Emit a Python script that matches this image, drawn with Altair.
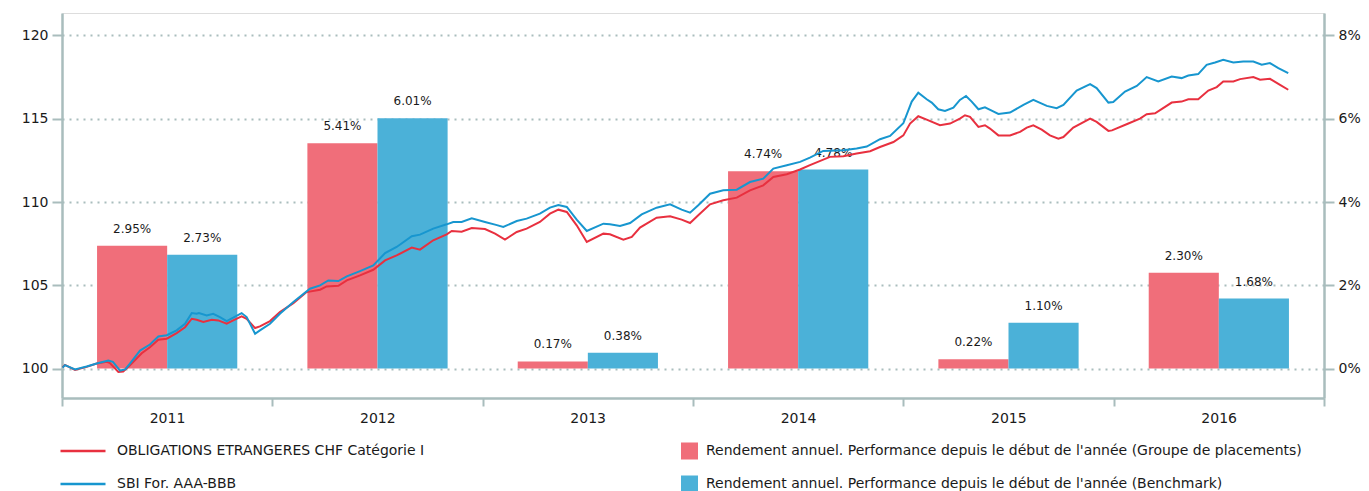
import altair as alt
import pandas as pd

# ---------------- data ----------------
years = [2011, 2012, 2013, 2014, 2015, 2016]
fund_perf = [2.95, 5.41, 0.17, 4.74, 0.22, 2.30]
bench_perf = [2.73, 6.01, 0.38, 4.78, 1.10, 1.68]

fund_name = "OBLIGATIONS ETRANGERES CHF Catégorie I"
bench_name = "SBI For. AAA-BBB"
bar_fund_name = "Rendement annuel. Performance depuis le début de l'année (Groupe de placements)"
bar_bench_name = "Rendement annuel. Performance depuis le début de l'année (Benchmark)"

fund_t = [2011.003, 2011.014, 2011.062, 2011.117, 2011.165, 2011.213, 2011.228, 2011.268, 2011.291, 2011.323,
          2011.379, 2011.418, 2011.458, 2011.498, 2011.545, 2011.585, 2011.617, 2011.640, 2011.672, 2011.712,
          2011.743, 2011.783, 2011.814, 2011.854, 2011.878, 2011.918, 2011.941, 2011.989,
          2012.036, 2012.100, 2012.163, 2012.227, 2012.258, 2012.314, 2012.354, 2012.417, 2012.480, 2012.536,
          2012.591, 2012.663, 2012.702, 2012.765, 2012.829, 2012.853, 2012.900, 2012.948,
          2013.011, 2013.059, 2013.106, 2013.162, 2013.209, 2013.272, 2013.320, 2013.360, 2013.400, 2013.447,
          2013.495, 2013.574, 2013.605, 2013.669, 2013.709, 2013.748, 2013.827, 2013.891, 2013.946, 2013.986,
          2014.025, 2014.081, 2014.144, 2014.208, 2014.271, 2014.334, 2014.382, 2014.446, 2014.509, 2014.556,
          2014.651, 2014.715, 2014.778, 2014.842, 2014.889, 2014.953,
          2015.000, 2015.032, 2015.071, 2015.111, 2015.174, 2015.222, 2015.269, 2015.293, 2015.317, 2015.357,
          2015.388, 2015.412, 2015.452, 2015.507, 2015.555, 2015.587, 2015.618, 2015.658, 2015.697, 2015.737,
          2015.761, 2015.808, 2015.888, 2015.919, 2015.975, 2015.992,
          2016.067, 2016.125, 2016.157, 2016.197, 2016.276, 2016.323, 2016.355, 2016.402, 2016.450, 2016.490,
          2016.521, 2016.569, 2016.601, 2016.664, 2016.696, 2016.743, 2016.791, 2016.830]
fund_v = [100.08, 100.22, 99.92, 100.10, 100.30, 100.40, 100.33, 99.80, 99.82, 100.20,
          100.92, 101.28, 101.73, 101.79, 102.13, 102.48, 102.99, 102.93, 102.79, 102.93,
          102.89, 102.69, 102.89, 103.13, 102.99, 102.43, 102.53, 102.85,
          103.39, 103.93, 104.59, 104.73, 104.93, 104.97, 105.29, 105.59, 105.93, 106.49,
          106.79, 107.26, 107.14, 107.70, 108.06, 108.26, 108.22, 108.44,
          108.38, 108.10, 107.74, 108.20, 108.40, 108.80, 109.30, 109.54, 109.40, 108.60,
          107.60, 108.10, 108.06, 107.74, 107.90, 108.46, 109.06, 109.14, 108.94, 108.74,
          109.20, 109.86, 110.10, 110.26, 110.70, 111.00, 111.50, 111.67, 111.95, 112.21,
          112.71, 112.75, 112.91, 113.05, 113.30, 113.60,
          114.00, 114.71, 115.15, 114.95, 114.61, 114.71, 115.01, 115.21, 115.11, 114.51,
          114.61, 114.41, 114.00, 114.00, 114.21, 114.47, 114.61, 114.35, 114.00, 113.80,
          113.90, 114.47, 115.01, 114.81, 114.27, 114.30,
          114.70, 115.01, 115.27, 115.33, 115.97, 116.03, 116.17, 116.17, 116.69, 116.90,
          117.24, 117.24, 117.38, 117.50, 117.34, 117.40, 117.04, 116.74]

bench_t = [2011.003, 2011.014, 2011.062, 2011.117, 2011.165, 2011.220, 2011.242, 2011.276, 2011.300, 2011.323,
           2011.371, 2011.418, 2011.458, 2011.498, 2011.545, 2011.585, 2011.617, 2011.640, 2011.651, 2011.688,
           2011.719, 2011.751, 2011.783, 2011.814, 2011.854, 2011.878, 2011.918, 2011.941, 2011.989,
           2012.036, 2012.100, 2012.179, 2012.227, 2012.266, 2012.314, 2012.354, 2012.417, 2012.480, 2012.536,
           2012.591, 2012.663, 2012.702, 2012.765, 2012.829, 2012.860, 2012.900, 2012.948,
           2013.011, 2013.059, 2013.098, 2013.162, 2013.209, 2013.272, 2013.320, 2013.360, 2013.400, 2013.447,
           2013.495, 2013.574, 2013.605, 2013.653, 2013.701, 2013.756, 2013.827, 2013.891, 2013.946, 2013.986,
           2014.025, 2014.081, 2014.144, 2014.208, 2014.271, 2014.334, 2014.382, 2014.446, 2014.509, 2014.556,
           2014.619, 2014.715, 2014.778, 2014.826, 2014.889, 2014.937,
           2015.000, 2015.040, 2015.071, 2015.111, 2015.135, 2015.166, 2015.198, 2015.238, 2015.269, 2015.298,
           2015.325, 2015.357, 2015.388, 2015.420, 2015.452, 2015.507, 2015.571, 2015.618, 2015.682, 2015.729,
           2015.761, 2015.824, 2015.888, 2015.919, 2015.975, 2015.998,
           2016.054, 2016.110, 2016.157, 2016.212, 2016.276, 2016.323, 2016.355, 2016.402, 2016.442, 2016.482,
           2016.521, 2016.569, 2016.616, 2016.664, 2016.704, 2016.743, 2016.783, 2016.830]
bench_v = [100.05, 100.20, 99.95, 100.12, 100.30, 100.48, 100.40, 99.88, 99.95, 100.30,
           101.08, 101.44, 101.92, 102.00, 102.29, 102.69, 103.33, 103.29, 103.33, 103.19,
           103.29, 103.09, 102.85, 103.05, 103.33, 103.09, 102.09, 102.29, 102.69,
           103.29, 103.99, 104.79, 104.99, 105.29, 105.25, 105.53, 105.85, 106.19, 106.93,
           107.30, 107.94, 108.04, 108.40, 108.66, 108.80, 108.80, 109.02,
           108.80, 108.64, 108.50, 108.86, 109.00, 109.30, 109.66, 109.82, 109.70, 108.94,
           108.26, 108.70, 108.66, 108.56, 108.74, 109.26, 109.66, 109.86, 109.54, 109.36,
           109.80, 110.50, 110.70, 110.74, 111.20, 111.40, 112.01, 112.21, 112.41, 112.67,
           113.07, 113.11, 113.21, 113.33, 113.77, 113.97,
           114.73, 116.03, 116.57, 116.17, 115.97, 115.57, 115.47, 115.67, 116.13, 116.37,
           116.03, 115.57, 115.69, 115.49, 115.29, 115.37, 115.83, 116.13, 115.77, 115.63,
           115.83, 116.69, 117.08, 116.84, 115.97, 116.00,
           116.63, 116.97, 117.50, 117.24, 117.54, 117.44, 117.60, 117.68, 118.24, 118.38,
           118.54, 118.38, 118.44, 118.44, 118.24, 118.34, 118.04, 117.74]

x_ticks = [2011, 2012, 2013, 2014, 2015, 2016, 2017]
left_ticks = [100, 105, 110, 115, 120]
right_ticks = [0, 2, 4, 6, 8]

# ---------------- styling ----------------
FONT = "DejaVu Sans"
AX = "#A9BDBD"
TXT = "#1a1a1a"
LINE_RED = "#E8303F"
LINE_BLUE = "#1796CF"
BAR_RED = "#F06E7A"
BAR_BLUE = "#4BB1D8"

line_df = pd.concat([
    pd.DataFrame({"t": fund_t, "v": fund_v, "series": fund_name}),
    pd.DataFrame({"t": bench_t, "v": bench_v, "series": bench_name}),
], ignore_index=True)

bar_df = pd.DataFrame({
    "year": years + years,
    "pct": fund_perf + bench_perf,
    "kind": [bar_fund_name] * len(years) + [bar_bench_name] * len(years),
    "k": [0] * len(years) + [1] * len(years),
})

x_scale = alt.Scale(domain=[2011, 2017], nice=False, zero=False)
x_axis = alt.Axis(values=x_ticks, format="d", title=None, grid=False,
                  labelExpr="datum.value >= 2017 ? '' : datum.label",
                  labelOffset=105, labelFlush=False, labelOverlap=False, labelBound=False,
                  tickSize=8, tickWidth=2, tickColor=AX, domainColor=AX, domainWidth=2.5,
                  labelFontSize=14, labelPadding=5, labelColor=TXT, labelFont=FONT)

left_scale = alt.Scale(domain=[98.23, 121.35], nice=False, zero=False)
right_scale = alt.Scale(domain=[-0.708, 8.54], nice=False, zero=False)

left_axis = alt.Axis(orient="left", values=left_ticks, title=None, grid=True,
                     gridColor=AX, gridDash=[2, 5], gridWidth=2,
                     tickSize=10, tickWidth=2, tickColor=AX, domainColor=AX, domainWidth=2.5,
                     labelFontSize=14, labelPadding=4, labelColor=TXT, labelFont=FONT)
right_axis = alt.Axis(orient="right", values=right_ticks, title=None, grid=False,
                      labelExpr="datum.value + '%'",
                      tickSize=10, tickWidth=2, tickColor=AX, domainColor=AX, domainWidth=2.5,
                      labelFontSize=14, labelPadding=4, labelColor=TXT, labelFont=FONT)

bar_base = alt.Chart(bar_df).transform_calculate(
    x0="datum.year + 1/6 + datum.k/3",
).transform_calculate(
    x1="datum.x0 + 1/3",
    xm="datum.x0 + 1/6",
    label="format(datum.pct, '.2f') + '%'",
)

bars = bar_base.mark_bar().encode(
    x=alt.X("x0:Q", scale=x_scale, axis=x_axis),
    x2="x1:Q",
    y=alt.Y("pct:Q", scale=right_scale, axis=right_axis),
    y2=alt.datum(0),
    fill=alt.Fill("kind:N",
                  scale=alt.Scale(domain=[bar_fund_name, bar_bench_name], range=[BAR_RED, BAR_BLUE]),
                  legend=alt.Legend(orient="none", legendX=619, legendY=428, title=None,
                                    symbolType="square", symbolSize=289, symbolStrokeWidth=0,
                                    labelOffset=8, labelFontSize=14, labelFont=FONT, labelColor=TXT,
                                    clipHeight=20, rowPadding=13, padding=0, labelLimit=800)),
)

labels = bar_base.mark_text(dy=-17, fontSize=12, font=FONT, color=TXT).encode(
    x=alt.X("xm:Q", scale=x_scale, axis=x_axis),
    y=alt.Y("pct:Q", scale=right_scale, axis=right_axis),
    text="label:N",
)

lines = alt.Chart(line_df).mark_line(strokeWidth=2).encode(
    x=alt.X("t:Q", scale=x_scale, axis=x_axis),
    y=alt.Y("v:Q", scale=left_scale, axis=left_axis),
    stroke=alt.Stroke("series:N",
                      scale=alt.Scale(domain=[fund_name, bench_name], range=[LINE_RED, LINE_BLUE]),
                      legend=alt.Legend(orient="none", legendX=-3, legendY=428, title=None,
                                        symbolType="stroke", symbolSize=2025, symbolStrokeWidth=2.5,
                                        labelOffset=10, labelFontSize=14, labelFont=FONT, labelColor=TXT,
                                        clipHeight=20, rowPadding=13, padding=0, labelLimit=800)),
)

chart = alt.layer(alt.layer(bars, labels), lines).resolve_scale(
    y="independent"
).properties(
    width=1262,
    height=385,
    padding={"left": 54, "top": 5, "right": 37, "bottom": 93},
    autosize=alt.AutoSizeParams(type="none"),
).configure_view(stroke=None).configure(font=FONT)

chart.save("out.html", embed_options={"renderer": "svg", "actions": False})
